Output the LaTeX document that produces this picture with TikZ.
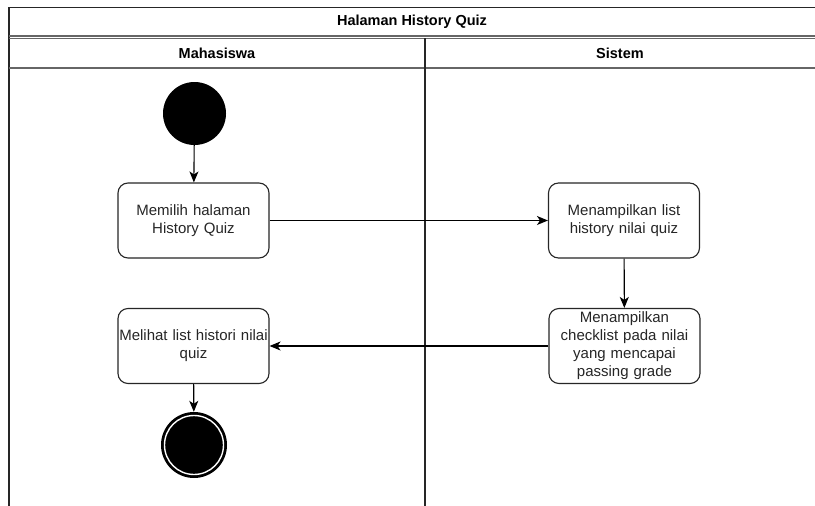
\documentclass[tikz,border=0pt]{standalone}
\usepackage{fontspec}
\setmainfont{Liberation Sans}
\usetikzlibrary{arrows.meta}

\begin{document}
\begin{tikzpicture}[x=1pt,y=-1pt,
  frame/.style={draw=black!85, line width=1.6pt},
  action/.style={draw=black!85, line width=1.1pt, rounded corners=10pt, fill=white,
    minimum width=151pt, minimum height=75pt, align=center, inner sep=1pt,
    text width=149pt, font=\fontsize{15}{18}\selectfont, text=black!85},
  lanetitle/.style={font=\bfseries\fontsize{14.5}{17}\selectfont, text=black},
  flow/.style={draw=black, line width=1.1pt, -{Stealth[length=11pt,width=9pt,inset=3pt]}}
]
\useasboundingbox (0,0) rectangle (815,506);

% swimlane pool frame
\draw[frame] (9,506) -- (9,7.5) -- (830,7.5);
\draw[draw=black!60, line width=1.3pt] (9,36) -- (830,36);
\draw[draw=black!60, line width=1.3pt] (9,38.5) -- (830,38.5);
\draw[draw=black!60, line width=1.3pt] (9,68) -- (830,68);
\draw[frame] (425,38) -- (425,506);

% titles
\node[lanetitle] (pool) at (412,21.5) {Halaman History Quiz};
\node[lanetitle] (laneA) at (217,53) {Mahasiswa};
\node[lanetitle] (laneB) at (620,53) {Sistem};

% start and end states
\node[circle, fill=black, minimum size=63pt, inner sep=0pt] (start) at (194.5,113.5) {};
\node[circle, fill=black, minimum size=66pt, inner sep=0pt] (end) at (194,445) {};
\draw[white, line width=1.4pt] (end.center) circle[radius=29.5pt];

% actions
\node[action] (pilih) at (193.5,220.5) {Memilih halaman\\History Quiz};
\node[action] (tampil) at (624,220.5) {Menampilkan list\\history nilai quiz};
\node[action] (cek) at (624.5,346) {Menampilkan\\checklist pada nilai\\yang mencapai\\passing grade};
\node[action] (lihat) at (193.5,346) {Melihat list histori nilai\\quiz};

% control flow
\draw[flow] (start) -- (pilih);
\draw[flow] (pilih) -- (tampil);
\draw[flow] (tampil) -- (cek);
\draw[flow] (cek) -- (lihat);
\draw[flow] (lihat) -- (end);
\end{tikzpicture}
\end{document}
